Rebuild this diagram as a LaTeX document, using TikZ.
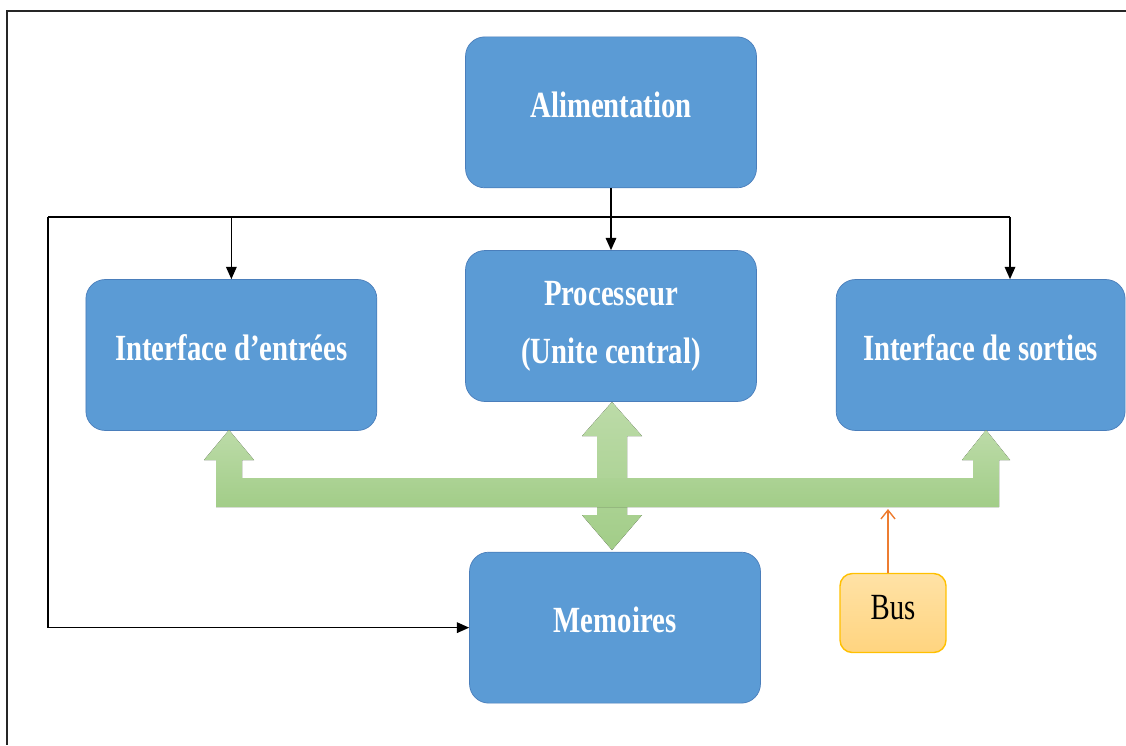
\documentclass[tikz,border=0pt]{standalone}
\usepackage{fontspec}
\newfontfamily\boxfont[FakeStretch=0.78]{Liberation Serif}
\usetikzlibrary{positioning,arrows.meta}

\definecolor{blocblue}{HTML}{5B9BD5}
\definecolor{blocedge}{HTML}{4A7EBB}
\definecolor{buslight}{HTML}{BCDBA8}
\definecolor{busdark}{HTML}{A2CD88}
\definecolor{tagedge}{HTML}{FFC000}
\definecolor{tagtop}{HTML}{FFE2A6}
\definecolor{tagbot}{HTML}{FFD47F}
\definecolor{busarrow}{HTML}{ED7D31}

\begin{document}
\begin{tikzpicture}[x=0.02cm, y=-0.02cm,
    >={Triangle[length=7pt,width=6pt]},
    bloc/.style={%
      rectangle, rounded corners=11pt, draw=blocedge, fill=blocblue,
      minimum width=5.82cm, minimum height=3.02cm, align=center,
      text=white, font=\boxfont\fontsize{21}{33}\selectfont\bfseries
    },
    ligne/.style={bloc, text depth=9pt},
    tag/.style={%
      rectangle, rounded corners=7pt, draw=tagedge, thick,
      top color=tagtop, bottom color=tagbot,
      minimum width=2.12cm, minimum height=1.58cm, text depth=6pt,
      font=\boxfont\fontsize{21}{25}\selectfont
    },
    lien/.style={draw=black, line width=0.9pt}
]
    \useasboundingbox (0,0) rectangle (1126,745);

    % frame
    \draw[line width=1.2pt, black!85] (1126,11) -- (7,11) -- (7,745);

    \node[bloc] (proc) at (611,326)  {Processeur\\(Unite central)};
    \node[ligne] (alim)   [above = 1.24cm of proc]  {Alimentation};
    \node[ligne] (entree) [left = 1.76cm of proc, yshift=-0.58cm]  {Interface d’entrées};
    \node[ligne, minimum width=5.78cm] (sortie) [right = 1.58cm of proc, yshift=-0.58cm]  {Interface de sorties};
    \node[ligne] (mem)    [below = 3cm of proc, xshift=0.08cm]  {Memoires};
    \node[tag]  (bus) at (893,613)  {Bus};

    % power lines
    \coordinate (nw) at (48,217);
    \coordinate (ne) at (1010,217);
    \coordinate (barre) at (888,509);

    \draw[lien, ->] (alim) -- (proc);
    \draw[lien] (nw) -- (ne);
    \draw[lien, ->] (nw -| entree.north) -- (entree);
    \draw[lien, ->] (ne) -- (ne |- sortie.north);
    \draw[lien, ->] (nw) |- (mem.west);

    % bus
    \fill[top color=buslight, bottom color=busdark]
      (612,402) -- (642,436) -- (627,436) -- (627,515) -- (642,515) -- (612,550)
      -- (582,515) -- (597,515) -- (597,436) -- (582,436) -- cycle;
    \fill[top color=buslight, bottom color=busdark]
      (216,507) -- (216,460) -- (204,460) -- (229,430) -- (254,460) -- (242,460)
      -- (242,478) -- (973,478) -- (973,460) -- (962,460) -- (986,430)
      -- (1010,460) -- (999,460) -- (999,507) -- cycle;

    \draw[busarrow, line width=0.8pt, -{Straight Barb[length=5pt,width=8pt]}]
      (bus.north -| barre) -- (barre);

\end{tikzpicture}
\end{document}
